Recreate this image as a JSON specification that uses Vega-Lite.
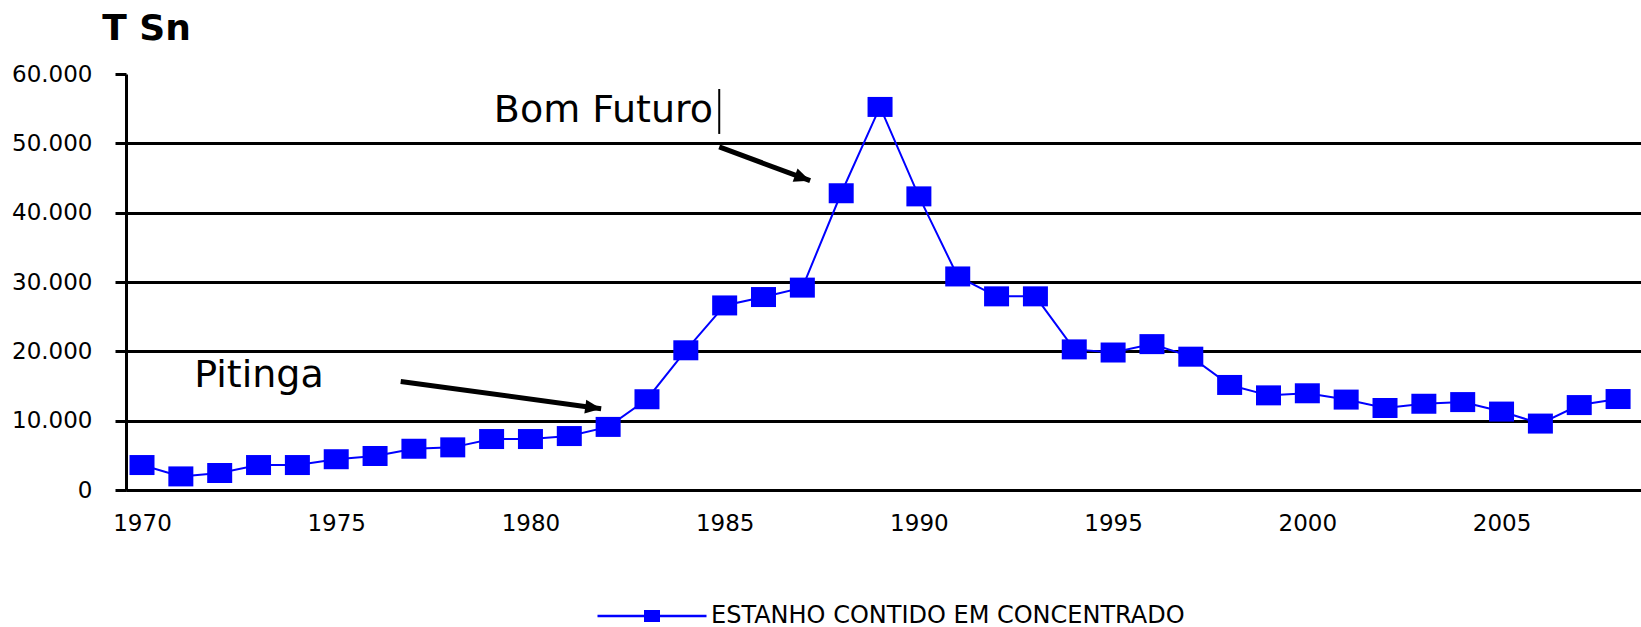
{
  "$schema": "https://vega.github.io/schema/vega-lite/v6.json",
  "autosize": {"type": "none"},
  "padding": {"left": 126, "top": 74, "right": 0, "bottom": 137},
  "width": 1515,
  "height": 416,
  "background": "white",
  "config": {"view": {"stroke": null}},
  "datasets": {
    "tin": [
      {"year": 1970, "t": 3600, "serie": "ESTANHO CONTIDO EM CONCENTRADO"},
      {"year": 1971, "t": 1960, "serie": "ESTANHO CONTIDO EM CONCENTRADO"},
      {"year": 1972, "t": 2450, "serie": "ESTANHO CONTIDO EM CONCENTRADO"},
      {"year": 1973, "t": 3600, "serie": "ESTANHO CONTIDO EM CONCENTRADO"},
      {"year": 1974, "t": 3600, "serie": "ESTANHO CONTIDO EM CONCENTRADO"},
      {"year": 1975, "t": 4440, "serie": "ESTANHO CONTIDO EM CONCENTRADO"},
      {"year": 1976, "t": 4900, "serie": "ESTANHO CONTIDO EM CONCENTRADO"},
      {"year": 1977, "t": 5950, "serie": "ESTANHO CONTIDO EM CONCENTRADO"},
      {"year": 1978, "t": 6150, "serie": "ESTANHO CONTIDO EM CONCENTRADO"},
      {"year": 1979, "t": 7350, "serie": "ESTANHO CONTIDO EM CONCENTRADO"},
      {"year": 1980, "t": 7350, "serie": "ESTANHO CONTIDO EM CONCENTRADO"},
      {"year": 1981, "t": 7780, "serie": "ESTANHO CONTIDO EM CONCENTRADO"},
      {"year": 1982, "t": 9100, "serie": "ESTANHO CONTIDO EM CONCENTRADO"},
      {"year": 1983, "t": 13090, "serie": "ESTANHO CONTIDO EM CONCENTRADO"},
      {"year": 1984, "t": 20150, "serie": "ESTANHO CONTIDO EM CONCENTRADO"},
      {"year": 1985, "t": 26620, "serie": "ESTANHO CONTIDO EM CONCENTRADO"},
      {"year": 1986, "t": 27830, "serie": "ESTANHO CONTIDO EM CONCENTRADO"},
      {"year": 1987, "t": 29190, "serie": "ESTANHO CONTIDO EM CONCENTRADO"},
      {"year": 1988, "t": 42800, "serie": "ESTANHO CONTIDO EM CONCENTRADO"},
      {"year": 1989, "t": 55250, "serie": "ESTANHO CONTIDO EM CONCENTRADO"},
      {"year": 1990, "t": 42350, "serie": "ESTANHO CONTIDO EM CONCENTRADO"},
      {"year": 1991, "t": 30800, "serie": "ESTANHO CONTIDO EM CONCENTRADO"},
      {"year": 1992, "t": 27930, "serie": "ESTANHO CONTIDO EM CONCENTRADO"},
      {"year": 1993, "t": 27930, "serie": "ESTANHO CONTIDO EM CONCENTRADO"},
      {"year": 1994, "t": 20280, "serie": "ESTANHO CONTIDO EM CONCENTRADO"},
      {"year": 1995, "t": 19830, "serie": "ESTANHO CONTIDO EM CONCENTRADO"},
      {"year": 1996, "t": 21040, "serie": "ESTANHO CONTIDO EM CONCENTRADO"},
      {"year": 1997, "t": 19230, "serie": "ESTANHO CONTIDO EM CONCENTRADO"},
      {"year": 1998, "t": 15150, "serie": "ESTANHO CONTIDO EM CONCENTRADO"},
      {"year": 1999, "t": 13650, "serie": "ESTANHO CONTIDO EM CONCENTRADO"},
      {"year": 2000, "t": 13950, "serie": "ESTANHO CONTIDO EM CONCENTRADO"},
      {"year": 2001, "t": 13040, "serie": "ESTANHO CONTIDO EM CONCENTRADO"},
      {"year": 2002, "t": 11830, "serie": "ESTANHO CONTIDO EM CONCENTRADO"},
      {"year": 2003, "t": 12440, "serie": "ESTANHO CONTIDO EM CONCENTRADO"},
      {"year": 2004, "t": 12680, "serie": "ESTANHO CONTIDO EM CONCENTRADO"},
      {"year": 2005, "t": 11310, "serie": "ESTANHO CONTIDO EM CONCENTRADO"},
      {"year": 2006, "t": 9580, "serie": "ESTANHO CONTIDO EM CONCENTRADO"},
      {"year": 2007, "t": 12250, "serie": "ESTANHO CONTIDO EM CONCENTRADO"},
      {"year": 2008, "t": 13120, "serie": "ESTANHO CONTIDO EM CONCENTRADO"}
    ],
    "arrows": [
      {"arrow": "Pitinga", "year": 1976.66, "t": 15650, "year2": 1981.82, "t2": 11720},
      {"arrow": "Bom Futuro", "year": 1984.86, "t": 49480, "year2": 1987.2, "t2": 44620}
    ],
    "labels": [
      {"label": "Pitinga", "year": 1973.01, "t": 14890},
      {"label": "Bom Futuro", "year": 1981.88, "t": 53085}
    ],
    "cursor": [
      {"year": 1984.86, "t": 57840, "t2": 51355}
    ]
  },
  "encoding": {
    "x": {
      "field": "year", "type": "quantitative",
      "scale": {"domain": [1969.588, 2008.59], "nice": false, "zero": false},
      "axis": {
        "title": null,
        "values": [1970, 1975, 1980, 1985, 1990, 1995, 2000, 2005],
        "format": "d",
        "grid": false,
        "ticks": false,
        "domain": true,
        "domainColor": "black",
        "domainWidth": 3,
        "labelFont": "DejaVu Sans",
        "labelFontSize": 23,
        "labelColor": "black",
        "labelPadding": 22,
        "labelFlush": false
      }
    },
    "y": {
      "field": "t", "type": "quantitative",
      "scale": {"domain": [0, 60000], "nice": false, "zero": true},
      "axis": {
        "title": "T Sn",
        "titleAngle": 0,
        "titleAlign": "center",
        "titleBaseline": "alphabetic",
        "titleX": 20,
        "titleY": -35,
        "titleFont": "DejaVu Sans",
        "titleFontWeight": "bold",
        "titleFontSize": 36,
        "titleColor": "black",
        "values": [0, 10000, 20000, 30000, 40000, 50000, 60000],
        "labelExpr": "replace(format(datum.value, ','), ',', '.')",
        "grid": true,
        "gridColor": "black",
        "gridWidth": 3,
        "gridOpacity": {"condition": {"test": "datum.value == 60000", "value": 0}, "value": 1},
        "ticks": true,
        "tickColor": "black",
        "tickWidth": 3,
        "tickSize": 11,
        "domain": true,
        "domainColor": "black",
        "domainWidth": 3,
        "labelFont": "DejaVu Sans",
        "labelFontSize": 23,
        "labelColor": "black",
        "labelPadding": 23,
        "labelFlush": false
      }
    }
  },
  "layer": [
    {
      "data": {"name": "tin"},
      "mark": {"type": "line", "strokeWidth": 2},
      "encoding": {
        "color": {
          "field": "serie", "type": "nominal",
          "scale": {"range": ["#0000ff"]},
          "legend": {
            "title": null,
            "orient": "none",
            "legendX": 470,
            "legendY": 486,
            "padding": 0,
            "symbolType": "M-1,0H1M-0.122,-0.085H0.122V0.085H-0.122Z",
            "symbolSize": 11881,
            "symbolStrokeWidth": 2.7,
            "symbolFillColor": "#0000ff",
            "symbolStrokeColor": "#0000ff",
            "labelFont": "DejaVu Sans",
            "labelFontSize": 24,
            "labelColor": "black",
            "labelOffset": 3,
            "labelLimit": 0,
            "encode": {
              "symbols": {
                "update": {
                  "shape": {"value": "M-1,0H1M-0.122,-0.085H0.122V0.085H-0.122Z"},
                  "size": {"value": 11881},
                  "fill": {"value": "#0000ff"},
                  "stroke": {"value": "#0000ff"},
                  "strokeWidth": {"value": 2.7},
                  "opacity": {"value": 1}
                }
              }
            }
          }
        }
      }
    },
    {
      "data": {"name": "tin"},
      "mark": {"type": "point", "shape": "M-1.25,-1H1.25V1H-1.25Z", "size": 400, "filled": true, "opacity": 1, "color": "#0000ff", "strokeWidth": 0}
    },
    {
      "data": {"name": "arrows"},
      "mark": {"type": "rule", "color": "black", "strokeWidth": 5},
      "encoding": {
        "x2": {"field": "year2"},
        "y2": {"field": "t2"}
      }
    },
    {
      "data": {"name": "arrows"},
      "transform": [{"filter": "datum.arrow == 'Pitinga'"}],
      "mark": {"type": "point", "shape": "M0,0L-2,-0.875L-2,0.875Z", "size": 256, "filled": true, "opacity": 1, "color": "black", "angle": 7.8, "strokeWidth": 0},
      "encoding": {
        "x": {"field": "year2", "type": "quantitative"},
        "y": {"field": "t2", "type": "quantitative"}
      }
    },
    {
      "data": {"name": "arrows"},
      "transform": [{"filter": "datum.arrow == 'Bom Futuro'"}],
      "mark": {"type": "point", "shape": "M0,0L-2,-0.875L-2,0.875Z", "size": 256, "filled": true, "opacity": 1, "color": "black", "angle": 20.3, "strokeWidth": 0},
      "encoding": {
        "x": {"field": "year2", "type": "quantitative"},
        "y": {"field": "t2", "type": "quantitative"}
      }
    },
    {
      "data": {"name": "labels"},
      "mark": {"type": "text", "font": "DejaVu Sans", "fontSize": 38, "color": "black", "align": "center", "baseline": "alphabetic"},
      "encoding": {
        "text": {"field": "label", "type": "nominal"}
      }
    },
    {
      "data": {"name": "cursor"},
      "mark": {"type": "rule", "color": "black", "strokeWidth": 2},
      "encoding": {
        "y2": {"field": "t2"}
      }
    }
  ]
}
